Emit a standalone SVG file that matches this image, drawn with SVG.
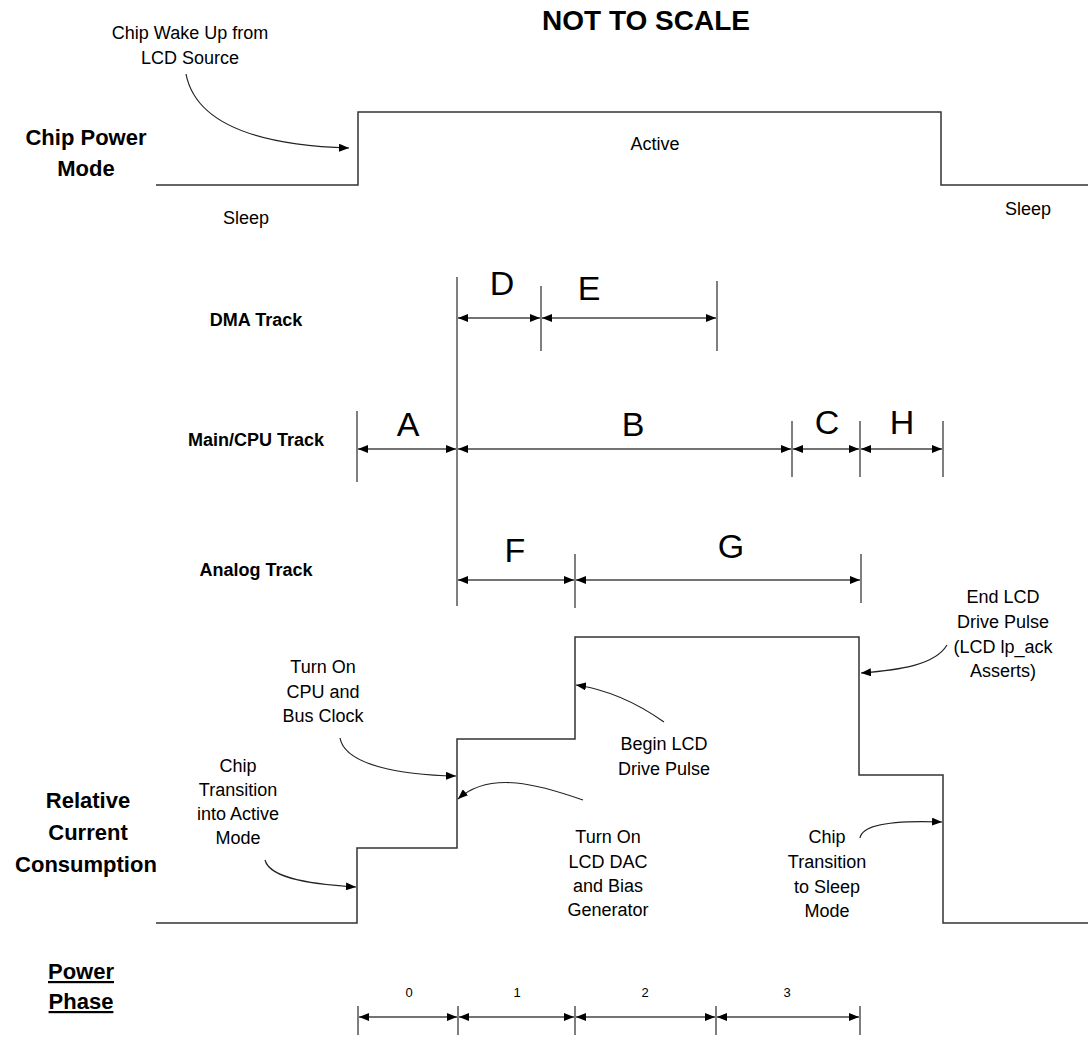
<svg xmlns="http://www.w3.org/2000/svg" width="1088" height="1040" viewBox="0 0 1088 1040">
<style>
text{font-family:"Liberation Sans",Arial,sans-serif;fill:#000}
.n{font-size:18px;text-anchor:middle}
.b{font-size:22px;font-weight:bold;text-anchor:middle}
.tr{font-size:18px;font-weight:bold;text-anchor:middle}
.L{font-size:34px;text-anchor:middle}
.s{font-size:13px;text-anchor:middle}
.wave{fill:none;stroke:#333;stroke-width:1.5}
.tick{stroke:#555;stroke-width:1.5}
.dim{stroke:#444;stroke-width:1.5;fill:none;marker-start:url(#ah);marker-end:url(#ah)}
.ann{stroke:#222;stroke-width:1.2;fill:none;marker-end:url(#ah)}
</style>
<defs>
<marker id="ah" viewBox="0 0 10 8" refX="10" refY="4" markerWidth="10" markerHeight="8" markerUnits="userSpaceOnUse" orient="auto-start-reverse"><path d="M0,0 L10,4 L0,8 z" fill="#000"/></marker>
</defs>

<text x="646" y="30" style="font-size:28px;font-weight:bold;text-anchor:middle">NOT TO SCALE</text>

<g id="power-mode">
<text class="b" x="86" y="145">Chip Power</text>
<text class="b" x="86" y="176">Mode</text>
<polyline class="wave" points="156,185 358,185 358,112 941,112 941,185 1088,185"/>
<text class="n" x="655" y="150">Active</text>
<text class="n" x="246" y="224">Sleep</text>
<text class="n" x="1028" y="215">Sleep</text>
<text class="n" x="190" y="39">Chip Wake Up from</text>
<text class="n" x="190" y="64">LCD Source</text>
</g>

<g id="dma-track">
<text class="tr" x="256" y="326">DMA Track</text>
<line class="tick" x1="541" y1="286" x2="541" y2="351"/>
<line class="tick" x1="717" y1="281" x2="717" y2="351"/>
<text class="L" x="502" y="295">D</text>
<text class="L" x="589" y="300">E</text>
</g>

<g id="main-track">
<text class="tr" x="256" y="446">Main/CPU Track</text>
<line class="tick" x1="357" y1="411" x2="357" y2="482"/>
<line class="tick" x1="792" y1="421" x2="792" y2="477"/>
<line class="tick" x1="860" y1="421" x2="860" y2="477"/>
<line class="tick" x1="943" y1="421" x2="943" y2="477"/>
<text class="L" x="408" y="436">A</text>
<text class="L" x="633" y="436">B</text>
<text class="L" x="827" y="434">C</text>
<text class="L" x="902" y="434">H</text>
</g>

<g id="analog-track">
<text class="tr" x="256" y="576">Analog Track</text>
<line class="tick" x1="575" y1="554" x2="575" y2="608"/>
<line class="tick" x1="861" y1="554" x2="861" y2="603"/>
<text class="L" x="515" y="562">F</text>
<text class="L" x="731" y="558">G</text>
</g>

<g id="start-line">
<line class="tick" x1="457" y1="277" x2="457" y2="606"/>
</g>

<g id="current">
<text class="b" x="88" y="808">Relative</text>
<text class="b" x="88" y="840">Current</text>
<text class="b" x="86" y="872">Consumption</text>
<polyline class="wave" points="156,923 357,923 357,848 457,848 457,739 575,739 575,637 859,637 859,775 943,775 943,923 1088,923"/>
<text class="n" x="323" y="673">Turn On</text>
<text class="n" x="323" y="698">CPU and</text>
<text class="n" x="323" y="722">Bus Clock</text>
<text class="n" x="238" y="772">Chip</text>
<text class="n" x="238" y="796">Transition</text>
<text class="n" x="238" y="820">into Active</text>
<text class="n" x="238" y="844">Mode</text>
<text class="n" x="608" y="843">Turn On</text>
<text class="n" x="608" y="868">LCD DAC</text>
<text class="n" x="608" y="892">and Bias</text>
<text class="n" x="608" y="916">Generator</text>
<text class="n" x="664" y="750">Begin LCD</text>
<text class="n" x="664" y="775">Drive Pulse</text>
<text class="n" x="1003" y="603">End LCD</text>
<text class="n" x="1003" y="628">Drive Pulse</text>
<text class="n" x="1003" y="653">(LCD lp_ack</text>
<text class="n" x="1003" y="677">Asserts)</text>
<text class="n" x="827" y="843">Chip</text>
<text class="n" x="827" y="868">Transition</text>
<text class="n" x="827" y="893">to Sleep</text>
<text class="n" x="827" y="917">Mode</text>
</g>

<g id="power-phase">
<text class="b" x="81" y="979" text-decoration="underline">Power</text>
<text class="b" x="81" y="1009" text-decoration="underline">Phase</text>
<line class="tick" x1="358" y1="1006" x2="358" y2="1035"/>
<line class="tick" x1="458" y1="1006" x2="458" y2="1035"/>
<line class="tick" x1="575" y1="1006" x2="575" y2="1035"/>
<line class="tick" x1="716" y1="1006" x2="716" y2="1035"/>
<line class="tick" x1="860" y1="1006" x2="860" y2="1035"/>
<text class="s" x="409" y="997">0</text>
<text class="s" x="517" y="997">1</text>
<text class="s" x="645" y="997">2</text>
<text class="s" x="787" y="997">3</text>
</g>

<g id="connectors">
<line class="dim" x1="458" y1="318" x2="540" y2="318"/>
<line class="dim" x1="542" y1="318" x2="716" y2="318"/>
<line class="dim" x1="358" y1="449" x2="456" y2="449"/>
<line class="dim" x1="458" y1="449" x2="791" y2="449"/>
<line class="dim" x1="793" y1="449" x2="859" y2="449"/>
<line class="dim" x1="861" y1="449" x2="942" y2="449"/>
<line class="dim" x1="458" y1="580" x2="574" y2="580"/>
<line class="dim" x1="576" y1="580" x2="860" y2="580"/>
<line class="dim" x1="359" y1="1017" x2="457" y2="1017"/>
<line class="dim" x1="459" y1="1017" x2="574" y2="1017"/>
<line class="dim" x1="576" y1="1017" x2="715" y2="1017"/>
<line class="dim" x1="717" y1="1017" x2="859" y2="1017"/>
<path class="ann" d="M186,74 C195,120 250,145 349,148"/>
<path class="ann" d="M340,738 C345,765 400,775 456,776"/>
<path class="ann" d="M583,800 C540,785 490,770 458,799"/>
<path class="ann" d="M265,860 C270,880 320,885 356,887"/>
<path class="ann" d="M664,722 C640,705 610,690 576,685"/>
<path class="ann" d="M947,645 C935,665 900,670 861,673"/>
<path class="ann" d="M860,838 C862,825 890,820 942,822"/>
</g>
</svg>
